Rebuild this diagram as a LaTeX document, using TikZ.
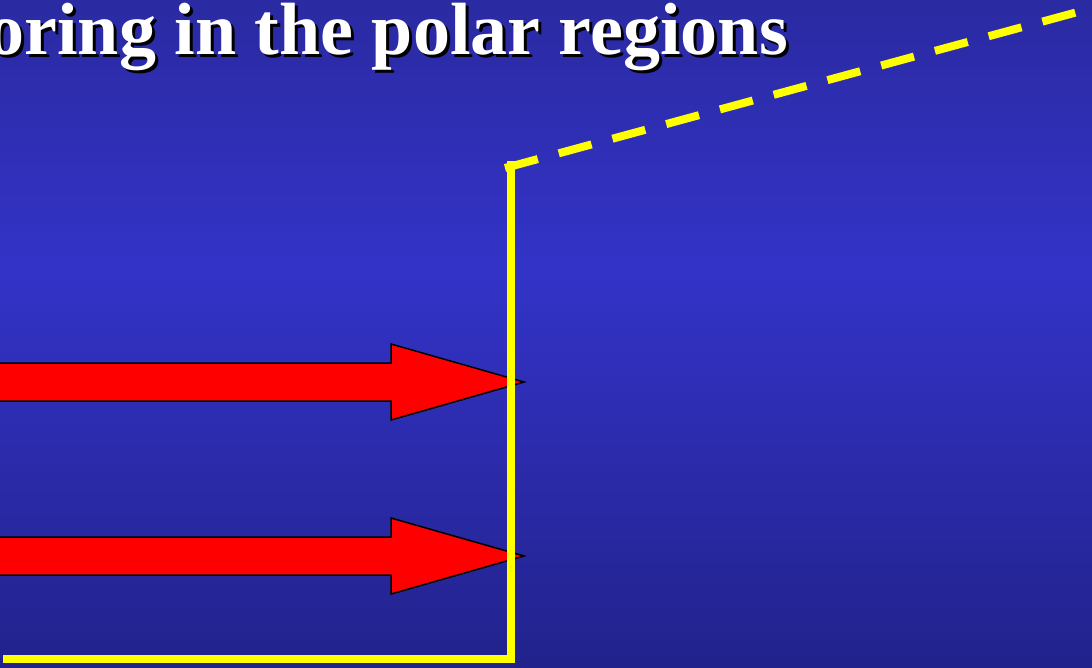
\documentclass[tikz,border=0pt]{standalone}
\usepackage{fontspec}
\setmainfont{Liberation Serif}
\definecolor{bgtop}{HTML}{2A2AA2}
\definecolor{bgmid}{HTML}{3333C8}
\definecolor{bgbot}{HTML}{22228C}
\definecolor{ylw}{HTML}{FFFF00}
\begin{document}
\begin{tikzpicture}[x=1pt,y=-1pt,
  titletext/.style={anchor=base east,inner sep=0pt,font=\fontsize{74}{80}\selectfont\bfseries},
  bigarrow/.style={fill=red,draw=black,line width=1.5pt,line join=miter},
  yline/.style={draw=ylw,line width=8pt,line join=miter},
  ydash/.style={draw=ylw,line width=8pt,dash pattern=on 34pt off 21.7pt}]
\useasboundingbox (0,0) rectangle (1092,667);
\clip (0,0) rectangle (1092,667);
\shade[top color=bgtop,bottom color=bgmid] (0,-1) rectangle (1092,270);
\shade[top color=bgmid,bottom color=bgbot] (0,269) rectangle (1092,668);
% title with shadow
\node[titletext,text=black] (titleshadow) at (791,57) {oring in the polar regions};
\node[titletext,text=white] (title) at (788,54) {oring in the polar regions};
% red arrows
\draw[bigarrow] (-5,363) -- (391,363) -- (391,344) -- (524,382) -- (391,420) -- (391,401) -- (-5,401) -- cycle;
\draw[bigarrow] (-5,537) -- (391,537) -- (391,518) -- (524,556) -- (391,594) -- (391,575) -- (-5,575) -- cycle;
% yellow lines
\coordinate (vtop) at (511,161);
\coordinate (corner) at (511,659);
\coordinate (hleft) at (3,659);
\coordinate (dstart) at (505,168);
\coordinate (dend) at (1110,3.2);
\draw[yline] (vtop) -- (corner) -- (hleft);
\draw[ydash] (dstart) -- (dend);
\end{tikzpicture}
\end{document}
